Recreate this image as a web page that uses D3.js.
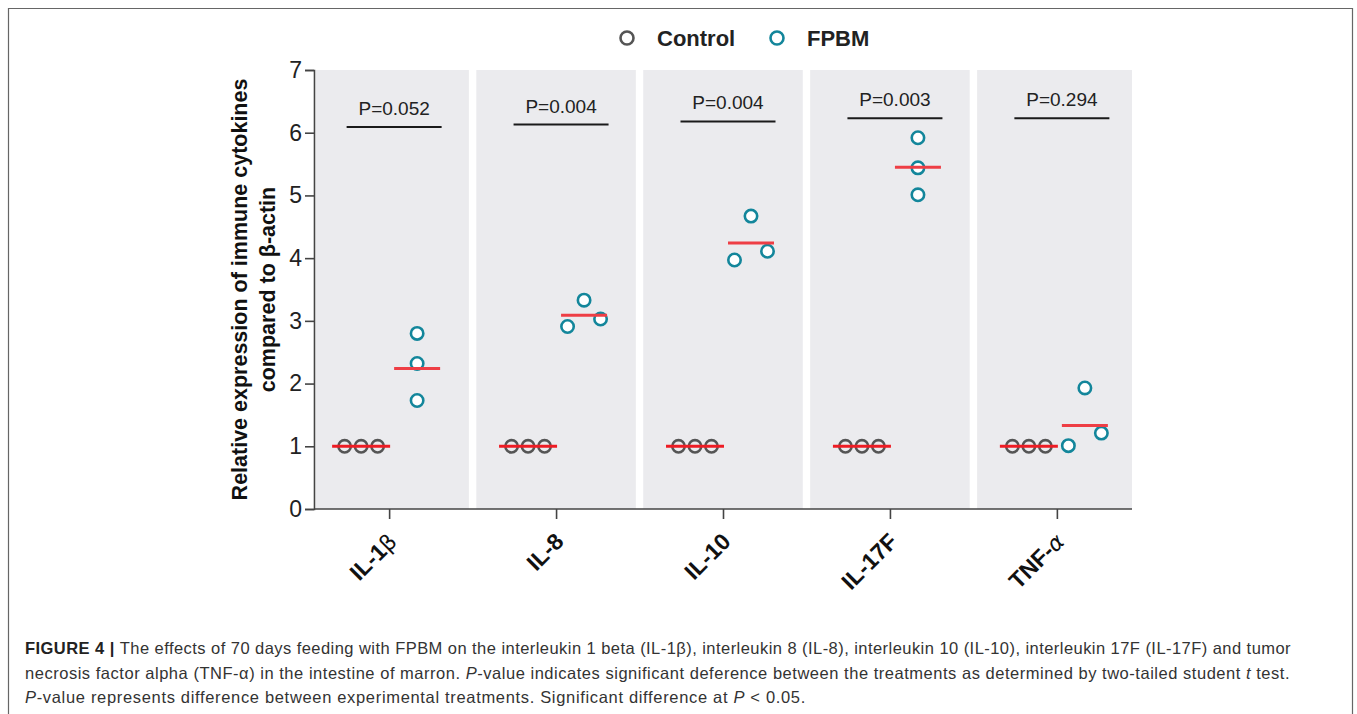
<!DOCTYPE html>
<html lang="en">
  <head>
    <meta charset="UTF-8" />
    <title>Figure 4 cytokines</title>
    <script src="https://d3js.org/d3.v7.min.js"></script>
    <style>
      body { margin: 0; background: #fff; }
      svg { display: block; font-family: "Liberation Sans", Arial, Helvetica, sans-serif; }
    </style>
  </head>
  <body>
    <svg id="chart" width="1357" height="714"></svg>
    <script>
      // values
      const categories = ["IL-1β", "IL-8", "IL-10", "IL-17F", "TNF-α"];
      const controlValues = [[1, 1, 1], [1, 1, 1], [1, 1, 1], [1, 1, 1], [1, 1, 1]];
      const fpbmValues = [
        [2.80, 2.32, 1.73],
        [2.91, 3.33, 3.03],
        [3.97, 4.67, 4.11],
        [5.92, 5.44, 5.01],
        [1.01, 1.93, 1.21]
      ];
      const controlMeans = [1, 1, 1, 1, 1];
      const fpbmMeans = [2.24, 3.09, 4.24, 5.45, 1.33];
      const pLabels = ["P=0.052", "P=0.004", "P=0.004", "P=0.003", "P=0.294"];
      const pLevels = [6.09, 6.13, 6.18, 6.23, 6.23];
      const yTicks = [0, 1, 2, 3, 4, 5, 6, 7];

      const greyCol = "#555555";
      const tealCol = "#13869b";

      const svg = d3.select("#chart");

      // frame around figure + caption
      svg.append("path")
        .attr("d", "M8.5,714 V8.5 H1352.5 V714")
        .attr("fill", "none")
        .attr("stroke", "#666")
        .attr("stroke-width", 1.2);

      const x = d3.scalePoint().domain(categories).range([314, 1132]).padding(0.45);
      const y = d3.scaleLinear().domain([0, 7]).range([509, 70]);
      const step = x.step();

      // grey panels behind each category
      const gap = 3.7;
      const panelL = (d, i) => i === 0 ? 316 : x(d) - step / 2 + gap;
      const panelR = (d, i) => i === categories.length - 1 ? 1132 : x(d) + step / 2 - gap;
      svg.append("g").selectAll("rect")
        .data(categories)
        .join("rect")
        .attr("x", panelL)
        .attr("width", (d, i) => panelR(d, i) - panelL(d, i))
        .attr("y", y(7))
        .attr("height", y(0) - y(7))
        .attr("fill", "#ebebee");

      // axes
      const yAxis = svg.append("g")
        .attr("transform", "translate(314,0)")
        .call(d3.axisLeft(y).tickValues(yTicks).tickSize(9).tickPadding(3).tickFormat(d3.format("d")));
      yAxis.select(".domain").attr("stroke", "#444").attr("stroke-width", 1.6);
      yAxis.selectAll(".tick line").attr("stroke", "#444").attr("stroke-width", 1.6);
      yAxis.selectAll(".tick text")
        .attr("font-size", 23)
        .attr("fill", "#222")
        .attr("font-family", "Liberation Sans, Arial, sans-serif");

      const xAxis = svg.append("g")
        .attr("transform", `translate(0,${y(0)})`)
        .call(d3.axisBottom(x).tickSize(10).tickSizeOuter(0).tickFormat(""));
      xAxis.select(".domain").attr("stroke", "#444").attr("stroke-width", 1.6)
        .attr("d", "M314,0H1132");
      xAxis.selectAll(".tick line").attr("stroke", "#444").attr("stroke-width", 1.6);

      // rotated category labels, greek letter set apart
      const xLab = svg.append("g").selectAll("text")
        .data(categories)
        .join("text")
        .attr("transform", d => `translate(${x(d) + 9},${y(0) + 34}) rotate(-45)`)
        .attr("text-anchor", "end")
        .attr("font-size", 23)
        .attr("font-weight", "bold")
        .attr("fill", "#111");
      xLab.each(function (d) {
        const t = d3.select(this);
        const last = d.slice(-1);
        if (last === "β" || last === "α") {
          t.append("tspan").text(d.slice(0, -1));
          t.append("tspan").text(last)
            .attr("font-weight", "normal")
            .attr("font-style", last === "α" ? "italic" : "normal")
            .attr("font-family", "DejaVu Sans, sans-serif")
            .attr("font-size", 22);
        } else {
          t.text(d);
        }
      });

      // y title
      const yTitle = svg.append("text")
        .attr("transform", `translate(0,${(y(0) + y(7)) / 2}) rotate(-90)`)
        .attr("text-anchor", "middle")
        .attr("font-size", 21.5)
        .attr("font-weight", "bold")
        .attr("fill", "#111");
      yTitle.append("tspan").attr("x", 0).attr("y", 247).text("Relative expression of immune cytokines");
      yTitle.append("tspan").attr("x", 0).attr("y", 275).text("compared to β-actin");

      // horizontal spread of overlapping points (beeswarm-style slots)
      const r = 6.2;
      const slotW = 16.5;
      function dodge(vals) {
        const order = vals.map((v, i) => ({ v, i })).sort((a, b) => a.v - b.v);
        const clusters = [];
        order.forEach(p => {
          const c = clusters[clusters.length - 1];
          if (c && Math.abs(y(c[c.length - 1].v) - y(p.v)) < 2 * r + 3) c.push(p);
          else clusters.push([p]);
        });
        const slots = new Array(vals.length).fill(0);
        clusters.forEach(c => {
          const s = c.length === 1 ? [0] : c.length === 2 ? [-1, 1] : c.map((p, k) => k - (c.length - 1) / 2);
          c.forEach((p, k) => { slots[p.i] = s[k]; });
        });
        return slots;
      }

      const groups = [
        { vals: controlValues, means: controlMeans, col: greyCol, fill: "none", shift: -28, lineL: -57, lineR: 1, lineCol: "#ee1c24" },
        { vals: fpbmValues, means: fpbmMeans, col: tealCol, fill: "#fff", shift: 28, lineL: 5, lineR: 51, lineCol: "#ee3e45" }
      ];

      groups.forEach(g => {
        const pts = [];
        categories.forEach((c, ci) => {
          const slots = dodge(g.vals[ci]);
          g.vals[ci].forEach((v, k) => pts.push({ c, v, s: slots[k] }));
        });
        svg.append("g").selectAll("circle")
          .data(pts)
          .join("circle")
          .attr("cx", d => x(d.c) + g.shift + d.s * slotW)
          .attr("cy", d => y(d.v))
          .attr("r", r)
          .attr("fill", g.fill)
          .attr("stroke", g.col)
          .attr("stroke-width", 2.6);
        svg.append("g").selectAll("line")
          .data(categories)
          .join("line")
          .attr("x1", d => x(d) + g.lineL)
          .attr("x2", d => x(d) + g.lineR)
          .attr("y1", (d, i) => y(g.means[i]))
          .attr("y2", (d, i) => y(g.means[i]))
          .attr("stroke", g.lineCol)
          .attr("stroke-width", 3);
      });

      // P-value annotations
      const pGroup = svg.append("g");
      categories.forEach((c, i) => {
        const cx = x(c) + 5;
        pGroup.append("line")
          .attr("x1", cx - 47.5).attr("x2", cx + 47.5)
          .attr("y1", y(pLevels[i])).attr("y2", y(pLevels[i]))
          .attr("stroke", "#1a1a1a").attr("stroke-width", 2);
        pGroup.append("text")
          .attr("x", cx).attr("y", y(pLevels[i]) - 12)
          .attr("text-anchor", "middle")
          .attr("font-size", 19)
          .attr("fill", "#222")
          .text(pLabels[i]);
      });

      // legend
      const legend = svg.append("g");
      [["Control", greyCol, 627], ["FPBM", tealCol, 777]].forEach(([name, col, lx]) => {
        legend.append("circle").attr("cx", lx).attr("cy", 38).attr("r", 6.5)
          .attr("fill", "#fff").attr("stroke", col).attr("stroke-width", 2.6);
        legend.append("text").attr("x", lx + 30).attr("y", 45.5)
          .attr("font-size", 22).attr("font-weight", "bold").attr("fill", "#222")
          .text(name);
      });

      // caption, each line stretched to the width it has in the figure
      const cap = svg.append("text")
        .attr("font-size", 16.5)
        .attr("fill", "#333");
      const l1 = cap.append("tspan").attr("x", 25).attr("y", 654);
      l1.append("tspan").attr("font-weight", "bold").attr("fill", "#222").text("FIGURE 4 | ");
      l1.append("tspan").text("The effects of 70 days feeding with FPBM on the interleukin 1 beta (IL-1β), interleukin 8 (IL-8), interleukin 10 (IL-10), interleukin 17F (IL-17F) and tumor");
      const l2 = cap.append("tspan").attr("x", 25).attr("y", 679);
      l2.append("tspan").text("necrosis factor alpha (TNF-α) in the intestine of marron. ");
      l2.append("tspan").attr("font-style", "italic").text("P");
      l2.append("tspan").text("-value indicates significant deference between the treatments as determined by two-tailed student ");
      l2.append("tspan").attr("font-style", "italic").text("t");
      l2.append("tspan").text(" test.");
      const l3 = cap.append("tspan").attr("x", 25).attr("y", 703);
      l3.append("tspan").attr("font-style", "italic").text("P");
      l3.append("tspan").text("-value represents difference between experimental treatments. Significant difference at ");
      l3.append("tspan").attr("font-style", "italic").text("P");
      l3.append("tspan").text(" < 0.05.");

      [[l1, 1266], [l2, 1265], [l3, 781]].forEach(([ln, target]) => {
        const n = ln.text().length;
        const w = d3.sum(ln.selectAll("tspan").nodes(), nd => nd.getComputedTextLength());
        ln.attr("letter-spacing", ((target - w) / n).toFixed(3));
      });
    </script>
  </body>
</html>
